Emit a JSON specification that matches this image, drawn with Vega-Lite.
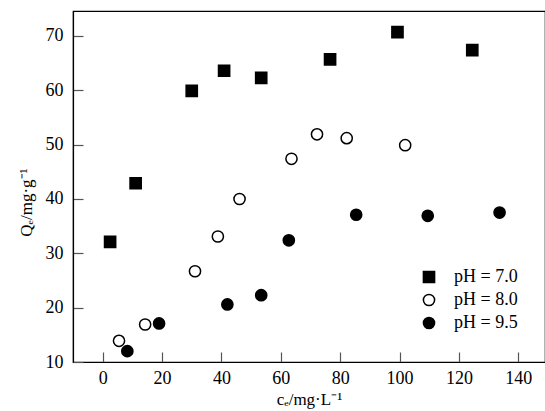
{
  "$schema": "https://vega.github.io/schema/vega-lite/v6.json",
  "autosize": {"type": "none"},
  "padding": {"left": 73, "top": 11, "right": 0, "bottom": 49},
  "width": 472,
  "height": 351,
  "background": "white",
  "config": {
    "view": {"stroke": "black", "strokeWidth": 1.2},
    "font": "Liberation Serif",
    "axis": {
      "grid": false,
      "domainColor": "black",
      "domainWidth": 1.2,
      "tickColor": "#555",
      "tickWidth": 1.2,
      "tickSize": -10,
      "labelFont": "Times New Roman",
      "labelFontSize": 18,
      "labelColor": "black",
      "titleFont": "Times New Roman",
      "titleFontSize": 17,
      "titleFontWeight": "normal",
      "titleColor": "black"
    }
  },
  "data": {
    "values": [
      {"ce": 2.5, "qe": 32.1, "pH": "pH = 7.0"},
      {"ce": 11.1, "qe": 42.9, "pH": "pH = 7.0"},
      {"ce": 30.0, "qe": 59.9, "pH": "pH = 7.0"},
      {"ce": 40.9, "qe": 63.6, "pH": "pH = 7.0"},
      {"ce": 53.4, "qe": 62.3, "pH": "pH = 7.0"},
      {"ce": 76.6, "qe": 65.7, "pH": "pH = 7.0"},
      {"ce": 99.3, "qe": 70.7, "pH": "pH = 7.0"},
      {"ce": 124.5, "qe": 67.4, "pH": "pH = 7.0"},
      {"ce": 5.5, "qe": 13.9, "pH": "pH = 8.0"},
      {"ce": 14.3, "qe": 16.9, "pH": "pH = 8.0"},
      {"ce": 31.1, "qe": 26.7, "pH": "pH = 8.0"},
      {"ce": 38.8, "qe": 33.1, "pH": "pH = 8.0"},
      {"ce": 46.1, "qe": 40.0, "pH": "pH = 8.0"},
      {"ce": 63.6, "qe": 47.4, "pH": "pH = 8.0"},
      {"ce": 72.2, "qe": 51.9, "pH": "pH = 8.0"},
      {"ce": 82.2, "qe": 51.2, "pH": "pH = 8.0"},
      {"ce": 101.9, "qe": 49.9, "pH": "pH = 8.0"},
      {"ce": 8.3, "qe": 12.0, "pH": "pH = 9.5"},
      {"ce": 19.0, "qe": 17.1, "pH": "pH = 9.5"},
      {"ce": 42.0, "qe": 20.6, "pH": "pH = 9.5"},
      {"ce": 53.4, "qe": 22.3, "pH": "pH = 9.5"},
      {"ce": 62.7, "qe": 32.4, "pH": "pH = 9.5"},
      {"ce": 85.4, "qe": 37.1, "pH": "pH = 9.5"},
      {"ce": 109.5, "qe": 36.9, "pH": "pH = 9.5"},
      {"ce": 133.7, "qe": 37.5, "pH": "pH = 9.5"}
    ]
  },
  "mark": {"type": "point", "filled": true, "size": 125, "stroke": "black", "strokeWidth": 1.5, "opacity": 1},
  "encoding": {
    "x": {
      "field": "ce", "type": "quantitative",
      "scale": {"domain": [-10, 149], "nice": false, "zero": false},
      "axis": {"values": [0, 20, 40, 60, 80, 100, 120, 140], "labelPadding": 17, "title": "cₑ/mg·L⁻¹", "titleY": 37, "titleBaseline": "middle"}
    },
    "y": {
      "field": "qe", "type": "quantitative",
      "scale": {"domain": [10, 74.6], "nice": false, "zero": false},
      "axis": {"values": [10, 20, 30, 40, 50, 60, 70], "labelPadding": 20, "title": "Qₑ/mg·g⁻¹", "titleX": -47, "titleY": 191, "titleBaseline": "middle"}
    },
    "shape": {
      "field": "pH", "type": "nominal",
      "scale": {"domain": ["pH = 7.0", "pH = 8.0", "pH = 9.5"], "range": ["square", "circle", "circle"]},
      "legend": {
        "orient": "none", "legendX": 347, "legendY": 257, "title": null,
        "padding": 0, "labelFont": "Times New Roman", "labelFontSize": 18, "labelColor": "black",
        "labelOffset": 16, "rowPadding": 5, "symbolSize": 125,
        "encode": {"symbols": {"update": {"stroke": {"value": "black"}, "strokeWidth": {"value": 1.5}}}}
      }
    },
    "fill": {
      "field": "pH", "type": "nominal",
      "scale": {"domain": ["pH = 7.0", "pH = 8.0", "pH = 9.5"], "range": ["black", "white", "black"]},
      "legend": {
        "orient": "none", "legendX": 347, "legendY": 257, "title": null,
        "padding": 0, "labelFont": "Times New Roman", "labelFontSize": 18, "labelColor": "black",
        "labelOffset": 16, "rowPadding": 5, "symbolSize": 125,
        "encode": {"symbols": {"update": {"stroke": {"value": "black"}, "strokeWidth": {"value": 1.5}}}}
      }
    }
  }
}
